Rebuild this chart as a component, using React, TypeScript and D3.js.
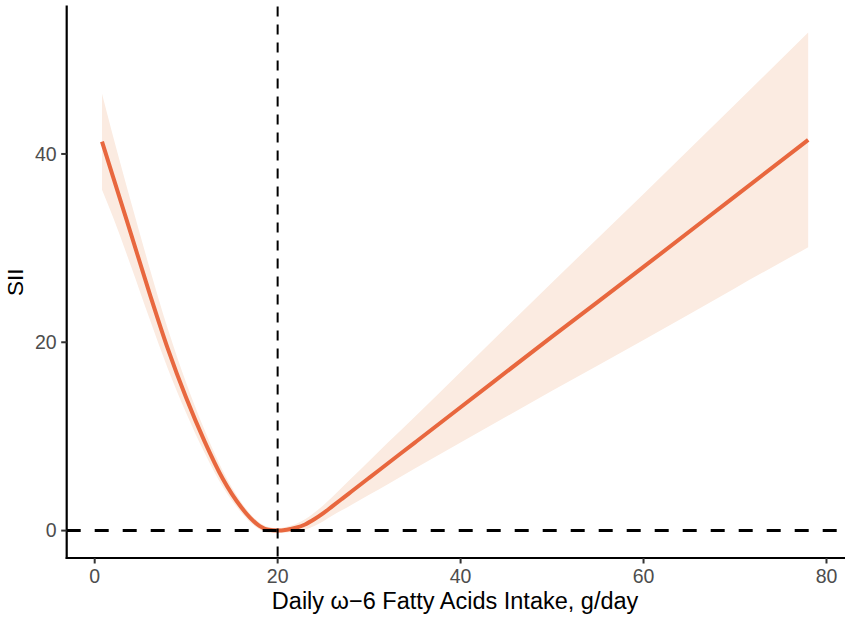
import React from 'react';
import * as d3 from 'd3';

// intake (g/day), fitted SII and 95% CI
const intake = [0.8, 2, 4, 6, 8, 10, 12, 14, 16, 17, 18, 19, 20, 21, 22, 23, 24, 25, 26, 27, 28, 30, 32, 35, 40, 50, 60, 70, 78];
const fit = [41.3, 37.6, 31.4, 25.2, 19.3, 14.1, 9.5, 5.5, 2.5, 1.35, 0.5, 0.08, 0.0, 0.1, 0.3, 0.65, 1.2, 1.85, 2.6, 3.35, 4.1, 5.6, 7.1, 9.35, 13.1, 20.6, 28.0, 35.5, 41.5];
const lower = [36.2, 33.3, 28.0, 22.5, 17.2, 12.5, 8.3, 4.65, 1.95, 0.9, 0.15, -0.22, -0.25, -0.2, -0.1, 0.1, 0.5, 1.0, 1.6, 2.15, 2.7, 3.8, 4.9, 6.6, 9.35, 14.85, 20.25, 25.75, 30.1];
const upper = [46.4, 41.9, 34.8, 27.9, 21.4, 15.7, 10.7, 6.35, 3.05, 1.8, 0.85, 0.38, 0.25, 0.4, 0.7, 1.2, 1.9, 2.7, 3.6, 4.55, 5.5, 7.4, 9.3, 12.1, 16.85, 26.35, 35.75, 45.25, 52.9];

const xTicks = [0, 20, 40, 60, 80];
const yTicks = [0, 20, 40];
const refX = 20;
const refY = 0;

const W = 851;
const H = 621;
const left = 66.7;
const right = 843.5;
const top = 6.5;
const bottom = 558;

const font = '"Liberation Sans", Arial, sans-serif';

export default function App() {
  const x = d3.scaleLinear().domain([-3.06, 81.86]).range([left, right]);
  const y = d3.scaleLinear().domain([-2.91, 55.66]).range([bottom, top]);

  const rows = intake.map((v, i) => ({ x: v, fit: fit[i], lo: lower[i], hi: upper[i] }));

  const band = d3.area<any>()
    .x(d => x(d.x))
    .y0(d => y(d.lo))
    .y1(d => y(d.hi))
    .curve(d3.curveMonotoneX);

  const line = d3.line<any>()
    .x(d => x(d.x))
    .y(d => y(d.fit))
    .curve(d3.curveMonotoneX);

  return (
    <div style={{ position: 'fixed', left: 0, top: 0 }}>
      <svg width={W} height={H} viewBox={`0 0 ${W} ${H}`} style={{ display: 'block', background: '#fff' }}>
        <path d={band(rows) || ''} fill="#FBEBE1" stroke="none" />
        <path d={line(rows) || ''} fill="none" stroke="#E8673E" strokeWidth={4} />

        {/* reference lines */}
        <line x1={x(refX)} x2={x(refX)} y1={top} y2={bottom} stroke="#000" strokeWidth={2} strokeDasharray="10 8" />
        <line x1={left} x2={right + 1.5} y1={y(refY)} y2={y(refY)} stroke="#000" strokeWidth={3} strokeDasharray="14 14" />

        {/* axes */}
        <line x1={left} x2={left} y1={top - 1} y2={bottom + 1} stroke="#000" strokeWidth={2.2} />
        <line x1={left - 1} x2={right + 1.5} y1={bottom} y2={bottom} stroke="#000" strokeWidth={2.2} />

        {yTicks.map(t => (
          <g key={'y' + t}>
            <line x1={left - 5.5} x2={left} y1={y(t)} y2={y(t)} stroke="#333" strokeWidth={2} />
            <text x={left - 10} y={y(t)} dy="0.35em" textAnchor="end" fontFamily={font} fontSize={19.5} fill="#4D4D4D">{t}</text>
          </g>
        ))}
        {xTicks.map(t => (
          <g key={'x' + t}>
            <line x1={x(t)} x2={x(t)} y1={bottom} y2={bottom + 5.5} stroke="#333" strokeWidth={2} />
            <text x={x(t)} y={bottom + 25} textAnchor="middle" fontFamily={font} fontSize={19.5} fill="#4D4D4D">{t}</text>
          </g>
        ))}

        <text x={(left + right) / 2} y={609} textAnchor="middle" fontFamily={font} fontSize={23.5} fill="#000">
          Daily ω−6 Fatty Acids Intake, g/day
        </text>
        <text transform={`translate(23,${(top + bottom) / 2}) rotate(-90)`} textAnchor="middle" fontFamily={font} fontSize={22.5} fill="#000">
          SII
        </text>
      </svg>
    </div>
  );
}
